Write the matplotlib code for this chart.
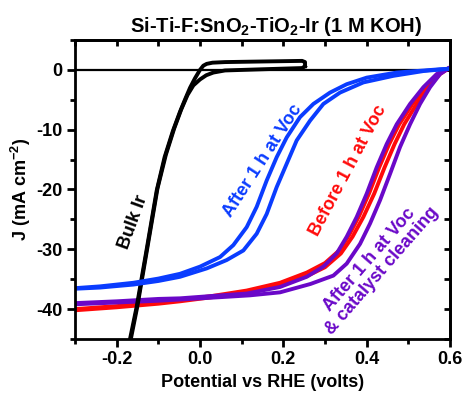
import matplotlib
matplotlib.use("Agg")
import matplotlib.pyplot as plt
from matplotlib.ticker import MultipleLocator

plt.rcParams['font.family'] = ['Liberation Sans', 'DejaVu Sans']
plt.rcParams['font.weight'] = 'bold'
plt.rcParams['axes.unicode_minus'] = False
plt.rcParams['mathtext.fontset'] = 'custom'
plt.rcParams['mathtext.rm'] = 'Liberation Sans:bold'
plt.rcParams['mathtext.bf'] = 'Liberation Sans:bold'
plt.rcParams['mathtext.it'] = 'Liberation Sans:bold'

# Bulk Ir, forward and return scans
bulk_x_fwd = [-0.168, -0.152, -0.128, -0.104, -0.085, -0.065, -0.048, -0.035, -0.024, -0.012, 0.0,
              0.008, 0.016, 0.03, 0.06, 0.15, 0.245, 0.252, 0.252]
bulk_y_fwd = [-45, -39.6, -30.0, -20.2, -14.6, -10.2, -7.0, -4.8, -3.0, -1.4, 0.0,
              0.7, 1.0, 1.2, 1.3, 1.4, 1.5, 1.3, 0.6]
bulk_x_rev = [0.252, 0.245, 0.15, 0.06, 0.032, 0.015, 0.0, -0.016, -0.03, -0.045, -0.062, -0.082,
              -0.102, -0.126, -0.15, -0.166]
bulk_y_rev = [0.6, 0.3, 0.1, -0.1, -0.45, -0.9, -1.6, -2.6, -4.2, -6.6, -9.8, -14.2,
              -19.8, -29.6, -39.4, -45]

# After 1 h at Voc
voc_x_a = [-0.3, -0.24, -0.16, -0.1, -0.048, 0.0, 0.048, 0.08, 0.112, 0.136, 0.16, 0.184, 0.208,
           0.24, 0.272, 0.312, 0.352, 0.40, 0.472, 0.576, 0.6]
voc_y_a = [-36.5, -36.2, -35.6, -34.9, -34.1, -32.9, -31.3, -29.3, -26.3, -22.9, -18.5, -14.6, -11.3,
           -7.9, -5.7, -3.8, -2.4, -1.3, -0.45, 0.1, 0.2]
voc_x_b = [-0.3, -0.24, -0.16, -0.1, -0.048, 0.016, 0.064, 0.104, 0.136, 0.16, 0.184, 0.208, 0.232,
           0.264, 0.296, 0.336, 0.392, 0.464, 0.536, 0.6]
voc_y_b = [-36.6, -36.4, -35.9, -35.3, -34.6, -33.2, -31.8, -30.2, -27.4, -24.1, -19.6, -15.7, -11.8,
           -8.5, -5.7, -3.8, -2.1, -1.0, -0.2, 0.2]

# Before 1 h at Voc
bef_x_a = [-0.3, -0.2, -0.1, -0.048, 0.03, 0.112, 0.192, 0.256, 0.3, 0.334, 0.358, 0.382, 0.406,
           0.43, 0.454, 0.478, 0.51, 0.541, 0.571, 0.6]
bef_y_a = [-40.0, -39.5, -38.9, -38.5, -37.8, -36.9, -35.6, -33.9, -32.3, -30.2, -27.6, -24.4, -20.6,
           -16.3, -12.4, -9.1, -5.7, -2.9, -0.7, 0.4]
bef_x_b = [-0.3, -0.2, -0.1, -0.048, 0.03, 0.112, 0.192, 0.256, 0.3, 0.338, 0.366, 0.392, 0.418,
           0.443, 0.467, 0.49, 0.52, 0.548, 0.576, 0.6]
bef_y_b = [-40.2, -39.7, -39.1, -38.7, -38.0, -37.2, -36.0, -34.5, -33.0, -30.7, -27.9, -24.6, -20.7,
           -16.3, -12.4, -9.1, -5.7, -2.9, -0.7, 0.4]

# After 1 h at Voc & catalyst cleaning
cln_x_a = [-0.3, -0.2, -0.1, -0.048, 0.03, 0.112, 0.192, 0.256, 0.296, 0.328, 0.352, 0.376, 0.40,
           0.424, 0.448, 0.472, 0.504, 0.536, 0.568, 0.6]
cln_y_a = [-39.0, -38.7, -38.3, -38.2, -37.8, -37.4, -36.3, -34.6, -32.9, -30.7, -27.9, -24.6, -20.7,
           -16.3, -12.4, -9.1, -5.7, -2.9, -0.7, 0.4]
cln_x_b = [-0.3, -0.2, -0.1, -0.048, 0.05, 0.12, 0.192, 0.265, 0.32, 0.352, 0.384, 0.408, 0.432,
           0.456, 0.48, 0.504, 0.528, 0.552, 0.576, 0.6]
cln_y_b = [-39.2, -38.9, -38.6, -38.4, -38.0, -37.7, -37.2, -35.8, -34.4, -32.4, -29.1, -25.7, -21.8,
           -17.4, -12.9, -9.1, -5.7, -2.9, -0.7, 0.4]

BLUE = '#0a3cff'
RED = '#ff0a0a'
PURPLE = '#6a08c8'
LW = 2.8

fig = plt.figure(figsize=(4.63, 3.94), dpi=100)
ax = fig.add_axes([0.162, 0.1396, 0.81, 0.759])

ax.axhline(0, color='black', lw=1.6, zorder=1)
ax.plot(bef_x_a, bef_y_a, color=RED, lw=LW, zorder=2)
ax.plot(bef_x_b, bef_y_b, color=RED, lw=LW, zorder=2)
ax.plot(cln_x_a, cln_y_a, color=PURPLE, lw=LW, zorder=2.1)
ax.plot(cln_x_b, cln_y_b, color=PURPLE, lw=LW, zorder=2.1)
ax.plot(bulk_x_fwd, bulk_y_fwd, color='black', lw=LW, zorder=2.2)
ax.plot(bulk_x_rev, bulk_y_rev, color='black', lw=LW, zorder=2.2)
ax.plot(voc_x_a, voc_y_a, color=BLUE, lw=LW, zorder=2.3)
ax.plot(voc_x_b, voc_y_b, color=BLUE, lw=LW, zorder=2.3)

ax.set_xlim(-0.3, 0.6)
ax.set_ylim(-45, 5)
ax.xaxis.set_minor_locator(MultipleLocator(0.1))
ax.yaxis.set_minor_locator(MultipleLocator(5))
ax.set_xticks([-0.2, 0.0, 0.2, 0.4, 0.6])
ax.set_xticklabels(['-0.2', '0.0', '0.2', '0.4', '0.6'])
ax.set_yticks([0, -10, -20, -30, -40])
ax.set_yticklabels(['0', '-10', '-20', '-30', '-40'])
ax.tick_params(which='major', direction='out', length=6, width=2, labelsize=13, pad=3)
ax.tick_params(which='minor', direction='out', length=3.5, width=2)
for s in ax.spines.values():
    s.set_linewidth(2)

top = ax.secondary_xaxis('top')
top.xaxis.set_major_locator(MultipleLocator(0.1))
top.tick_params(direction='in', length=4, width=2, labeltop=False)
right = ax.secondary_yaxis('right')
right.yaxis.set_major_locator(MultipleLocator(5))
right.tick_params(direction='in', length=4, width=2, labelright=False)
for sec in (top, right):
    for s in sec.spines.values():
        s.set_linewidth(2)

ax.set_xlabel('Potential vs RHE (volts)', fontsize=13, fontweight='bold', labelpad=4)
ax.set_ylabel('J (mA cm$^{-2}$)', fontsize=13, fontweight='bold', labelpad=2)
fig.text(276 / 463, 1 - 26 / 394, 'Si-Ti-F:SnO$_2$-TiO$_2$-Ir (1 M KOH)', fontsize=14.5,
         fontweight='bold', ha='center', va='center')

ax.text(-0.160, -25.5, 'Bulk Ir', color='black', fontsize=13, fontweight='bold',
        rotation=70, ha='center', va='center')
ax.text(0.15, -15.2, 'After 1 h at Voc', color=BLUE, fontsize=13, fontweight='bold',
        rotation=57, ha='center', va='center')
ax.text(0.356, -16.8, 'Before 1 h at Voc', color=RED, fontsize=13, fontweight='bold',
        rotation=62, ha='center', va='center')
ax.text(0.422, -32.7, 'After 1 h at Voc\n& catalyst cleaning', color=PURPLE, fontsize=13,
        fontweight='bold', rotation=49, ha='center', va='center', multialignment='center',
        linespacing=1.0)

fig.savefig('out.png', dpi=100)
